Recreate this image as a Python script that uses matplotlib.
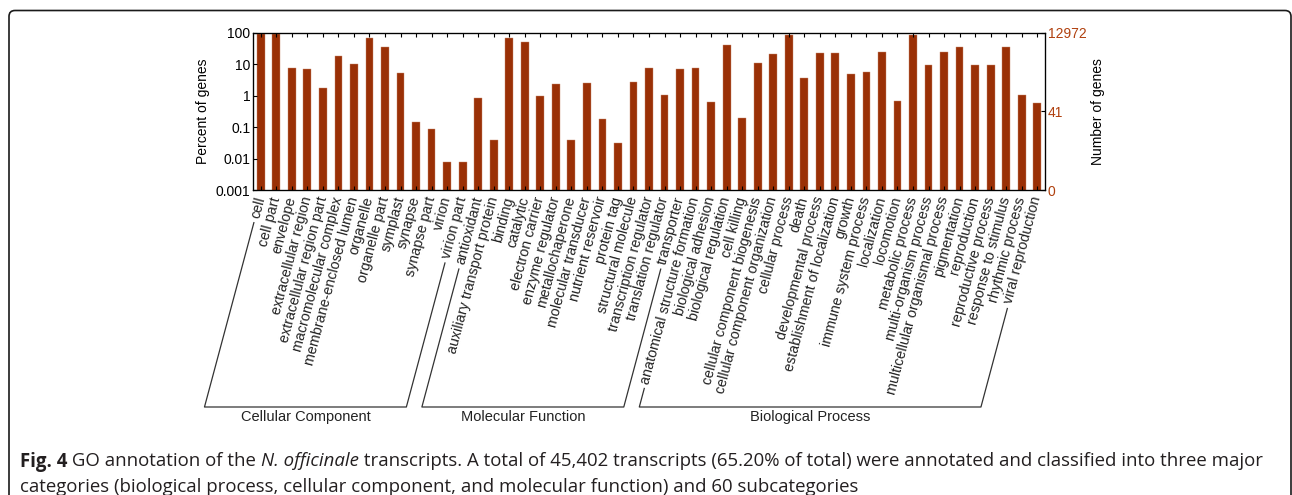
import numpy as np
import matplotlib

matplotlib.use("Agg")
import matplotlib.pyplot as plt
from matplotlib.lines import Line2D
from matplotlib.patches import FancyBboxPatch
from matplotlib.transforms import IdentityTransform

plt.rcParams["font.family"] = ["Liberation Sans", "DejaVu Sans"]

# GO terms per category, percent of annotated genes
cc_terms = [
    "cell", "cell part", "envelope", "extracellular region",
    "extracellular region part", "macromolecular complex",
    "membrane-enclosed lumen", "organelle", "organelle part", "symplast",
    "synapse", "synapse part", "virion", "virion part",
]
cc_pct = [90, 90, 7.6, 6.9, 1.76, 18, 10, 66, 35.7, 5.3, 0.148, 0.084, 0.0077, 0.0077]

mf_terms = [
    "antioxidant", "auxiliary transport protein", "binding", "catalytic",
    "electron carrier", "enzyme regulator", "metallochaperone",
    "molecular transducer", "nutrient reservoir", "protein tag",
    "structural molecule", "transcription regulator",
    "translation regulator", "transporter",
]
mf_pct = [0.84, 0.038, 66, 51.6, 0.95, 2.3, 0.038, 2.5, 0.18, 0.031, 2.73, 7.3, 1.03, 6.8]

bp_terms = [
    "anatomical structure formation", "biological adhesion",
    "biological regulation", "cell killing",
    "cellular component biogenesis", "cellular component organization",
    "cellular process", "death", "developmental process",
    "establishment of localization", "growth", "immune system process",
    "localization", "locomotion", "metabolic process",
    "multi-organism process", "multicellular organismal process",
    "pigmentation", "reproduction", "reproductive process",
    "response to stimulus", "rhythmic process", "viral reproduction",
]
bp_pct = [7.4, 0.65, 41.4, 0.2, 10.5, 20.4, 86, 3.7, 23, 22.5, 4.7, 5.8, 23.6,
          0.66, 82, 9.3, 24.8, 35.7, 9.5, 9.5, 35.7, 1.03, 0.6]

groups = ["Cellular Component", "Molecular Function", "Biological Process"]
total_genes = 12972
gene_ticks = [41, 12972]

BAR = "#9a3006"
RIGHT = "#b0400e"
ANGLE = 75

terms = cc_terms + mf_terms + bp_terms
pct = cc_pct + mf_pct + bp_pct
sizes = [len(cc_terms), len(mf_terms), len(bp_terms)]
x = np.arange(len(terms))

W, H = 1292, 495
fig = plt.figure(figsize=(W / 100, H / 100), dpi=100)
ax = fig.add_axes([253 / W, 1 - 190 / H, (1045 - 253) / W, (190 - 32.7) / H])

ax.bar(x, pct, width=0.5, color=BAR, edgecolor="#c98a6e", linewidth=0.3)
ax.set_yscale("log")
ax.set_ylim(0.001, 100)
ax.set_xlim(-0.5, len(terms) - 0.5)
ax.set_yticks([0.001, 0.01, 0.1, 1, 10, 100])
ax.set_yticklabels(["0.001", "0.01", "0.1", "1", "10", "100"])
ax.minorticks_off()
ax.set_xticks(x)
ax.set_xticklabels(terms, rotation=ANGLE, ha="right", va="center",
                   rotation_mode="anchor", fontsize=10.3, color="#222222")
ax.tick_params(axis="x", top=True, direction="in", length=3, pad=5)
ax.tick_params(axis="y", direction="in", length=3, labelsize=10, pad=2)
ax.set_ylabel("Percent of genes", fontsize=10, labelpad=4)
for s in ax.spines.values():
    s.set_linewidth(0.9)

ax2 = ax.twinx()
ax2.set_yscale("log")
ax2.set_ylim(ax.get_ylim())
ax2.minorticks_off()
ax2.set_yticks([0.001] + [100 * g / total_genes for g in gene_ticks])
ax2.set_yticklabels(["0"] + [str(g) for g in gene_ticks])
ax2.tick_params(axis="y", direction="in", length=3, labelsize=10,
                labelcolor=RIGHT, pad=2)
ax2.set_ylabel("Number of genes", fontsize=10, labelpad=3)

# group brackets follow the slant of the rotated tick labels
fig.canvas.draw()
renderer = fig.canvas.get_renderer()
labels = ax.get_xticklabels()
th = np.deg2rad(ANGLE)
c, s = np.cos(th), np.sin(th)
base_y = H - 407
gap = 5


def label_start(t):
    bb = t.get_window_extent(renderer)
    h = (bb.width * s - bb.height * c) / (s * s - c * c)
    return bb.x0 + h * s / 2, bb.y0 + h * c / 2


to_fig = fig.transFigure.inverted()
start = 0
for name, n in zip(groups, sizes):
    ends = []
    for idx in (start, start + n - 1):
        sx, sy = label_start(labels[idx])
        ty = sy - gap * s
        tx = sx - gap * c
        bx = tx - (ty - base_y) / np.tan(th)
        ends.append(((tx, ty), (bx, base_y)))
    (t0, b0), (t1, b1) = ends
    pts = np.array([t0, b0, b1, t1])
    fpts = to_fig.transform(pts)
    fig.add_artist(Line2D(fpts[:, 0], fpts[:, 1], color="#333333", lw=0.9,
                          transform=fig.transFigure))
    cx = to_fig.transform([((b0[0] + b1[0]) / 2, base_y - 10)])[0]
    fig.text(cx[0], cx[1], name, ha="center", va="center", fontsize=10.5,
             color="#222222")
    start += n

# caption
cap_font = ["Open Sans", "DejaVu Sans"]
lines = [
    [("Fig. 4", "bold", "normal"), (" GO annotation of the ", "normal", "normal"),
     ("N. officinale", "normal", "italic"),
     (" transcripts. A total of 45,402 transcripts (65.20% of total) were "
      "annotated and classified into three major", "normal", "normal")],
    [("categories (biological process, cellular component, and molecular "
      "function) and 60 subcategories", "normal", "normal")],
]
baselines = [H - 466.5, H - 491.5]
for parts, yb in zip(lines, baselines):
    px = 20
    for txt, weight, style in parts:
        t = fig.text(px / W, yb / H, txt, fontsize=13.4, family=cap_font,
                     weight=weight, style=style, ha="left", va="baseline",
                     color="#231f20")
        px = t.get_window_extent(renderer).x1

box = FancyBboxPatch((9, -30), 1282, H - 10.5 + 30,
                     boxstyle="round,pad=0,rounding_size=6",
                     fill=False, edgecolor="#1a1a1a", linewidth=1.2,
                     transform=IdentityTransform())
fig.patches.append(box)

fig.savefig("out.png", dpi=100)
